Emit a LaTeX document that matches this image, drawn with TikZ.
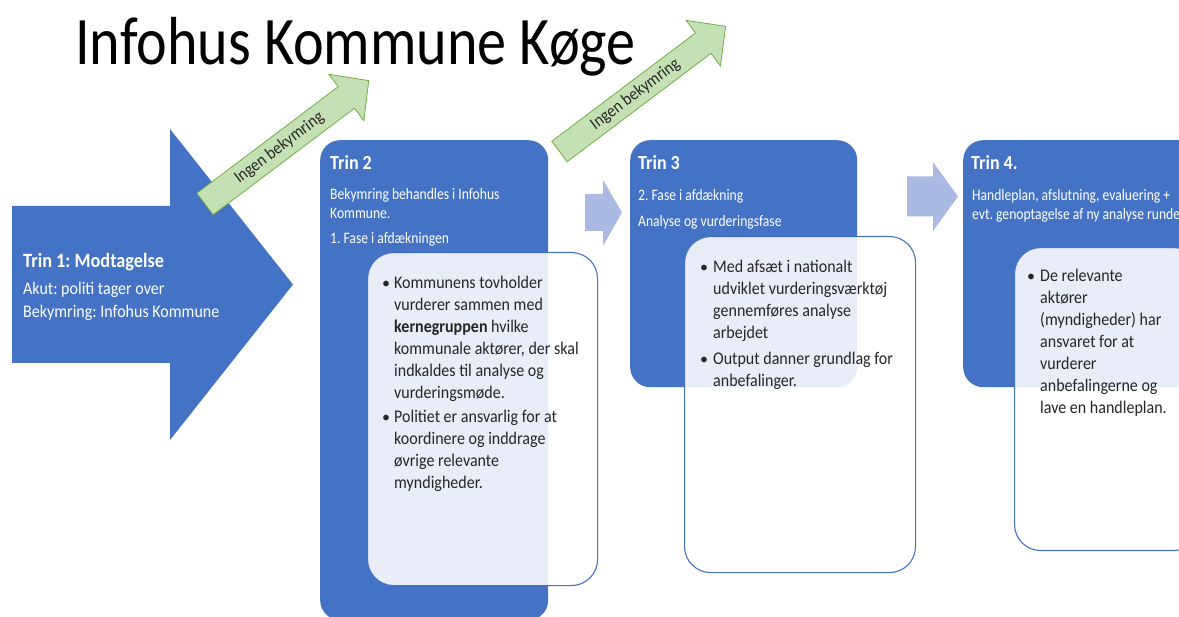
\documentclass[tikz,border=0pt]{standalone}
\usepackage{fontspec}
\setmainfont{Carlito}
\newfontfamily\narrowfont[FakeStretch=0.9]{Carlito}
\newfontfamily\subfont[FakeStretch=0.85]{Carlito}
\newfontfamily\titlefont[FakeStretch=0.855]{Carlito}
\definecolor{mainblue}{HTML}{4472C4}
\definecolor{lightarrow}{RGB}{170,186,226}
\definecolor{greenfill}{HTML}{C5E0B4}
\definecolor{greenline}{HTML}{70AD47}
\definecolor{textdark}{HTML}{262626}
\begin{document}
\frenchspacing
\begin{tikzpicture}[x=1pt,y=-1pt,
  bluebox/.style={fill=mainblue, rounded corners=20pt, inner sep=0pt, anchor=north west},
  whitebox/.style={draw=mainblue, line width=1.1pt, fill=white, fill opacity=0.88, rounded corners=26pt, inner sep=0pt, anchor=north west},
  greenarrow/.style={fill=greenfill, draw=greenline, line width=0.8pt},
  lightarr/.style={fill=lightarrow},
  hdr/.style={anchor=base west, inner sep=0pt, text=white, font=\narrowfont\fontsize{20}{24}\selectfont\bfseries},
  subtxt/.style={anchor=base west, inner sep=0pt, text=white, font=\subfont\fontsize{16}{19}\selectfont, align=left},
  bultxt/.style={anchor=base west, inner sep=0pt, text=textdark, font=\narrowfont\fontsize{17.8}{22}\selectfont, align=left},
  buldot/.style={anchor=base, inner sep=0pt, text=textdark, font=\fontsize{16}{22}\selectfont},
  greentxt/.style={inner sep=0pt, text=textdark, font=\narrowfont\fontsize{17.5}{18}\selectfont, rotate=37}
]
\useasboundingbox (0,0) rectangle (1179,617);
\clip (0,0) rectangle (1179,617);

% title
\node[anchor=base west, inner sep=0pt, font=\titlefont\fontsize{68}{80}\selectfont] (title) at (75,65) {Infohus Kommune Køge};

% big arrow (Trin 1)
\fill[mainblue] (12,206) -- (170,206) -- (170,129) -- (293,284.5) -- (170,440) -- (170,363) -- (12,363) -- cycle;
\node[anchor=base west, inner sep=0pt, text=white, font=\narrowfont\fontsize{20.3}{24}\selectfont\bfseries] (t1head) at (23,268) {Trin 1: Modtagelse};
\node[anchor=base west, inner sep=0pt, text=white, font=\narrowfont\fontsize{17.8}{23}\selectfont, align=left] (t1body) at (23,318) {Akut: politi tager over\\Bekymring: Infohus Kommune};

% green arrows
\begin{scope}[shift={(205,204)}, rotate=37]
  \draw[greenarrow] (0,-13.5) -- (177,-13.5) -- (177,-29) -- (205,0) -- (177,29) -- (177,13.5) -- (0,13.5) -- cycle;
  \node[greentxt] (g1) at (93,0) {Ingen bekymring};
\end{scope}
\begin{scope}[shift={(559.5,151.5)}, rotate=37]
  \draw[greenarrow] (0,-12.8) -- (180,-12.8) -- (180,-28.5) -- (208,0) -- (180,28.5) -- (180,12.8) -- (0,12.8) -- cycle;
  \node[greentxt] (g2) at (95,0) {Ingen bekymring};
\end{scope}

% blue boxes
\node[bluebox, minimum width=228pt, minimum height=480pt] (b2) at (320,140) {};
\node[bluebox, minimum width=227pt, minimum height=247pt] (b3) at (630,140) {};
\node[bluebox, minimum width=240pt, minimum height=247pt] (b4) at (963,140) {};

% light arrows
\fill[lightarr] (585,194) -- (603,194) -- (603,180) -- (622,212.5) -- (603,246) -- (603,231) -- (585,231) -- cycle;
\fill[lightarr] (907,176.5) -- (933,176.5) -- (933,162) -- (958,196.5) -- (933,231) -- (933,216.5) -- (907,216.5) -- cycle;

% headers
\node[hdr] (h2) at (330,170) {Trin 2};
\node[subtxt] (s2a) at (330,219) {Bekymring behandles i Infohus\\Kommune.};
\node[subtxt] (s2b) at (330,244) {1. Fase i afdækningen};
\node[hdr] (h3) at (638,170) {Trin 3};
\node[subtxt] (s3a) at (638,201) {2. Fase i afdækning};
\node[subtxt] (s3b) at (638,227) {Analyse og vurderingsfase};
\node[hdr] (h4) at (971,170) {Trin 4.};
\node[subtxt] (s4a) at (972,220) {Handleplan, afslutning, evaluering +\\evt. genoptagelse af ny analyse runde};

% white boxes
\node[whitebox, minimum width=230pt, minimum height=333pt] (w2) at (367,252) {};
\node[whitebox, minimum width=231pt, minimum height=336pt] (w3) at (684,236) {};
\node[whitebox, minimum width=185pt, minimum height=303pt] (w4) at (1014,247) {};

% bullets Trin 2
\node[buldot] (d2a) at (386,289) {\textbullet};
\node[bultxt] (l2a) at (394,399) {Kommunens tovholder\\vurderer sammen med\\\textbf{kernegruppen} hvilke\\kommunale aktører, der skal\\indkaldes til analyse og\\vurderingsmøde.};
\node[buldot] (d2b) at (386,423) {\textbullet};
\node[bultxt] (l2b) at (394,489) {Politiet er ansvarlig for at\\koordinere og inddrage\\øvrige relevante\\myndigheder.};

% bullets Trin 3
\node[buldot] (d3a) at (704,273) {\textbullet};
\node[bultxt] (l3a) at (713,339) {Med afsæt i nationalt\\udviklet vurderingsværktøj\\gennemføres analyse\\arbejdet};
\node[buldot] (d3b) at (704,365) {\textbullet};
\node[bultxt] (l3b) at (713,387) {Output danner grundlag for\\anbefalinger.};

% bullets Trin 4
\node[buldot] (d4a) at (1031,282) {\textbullet};
\node[bultxt] (l4a) at (1040,414) {De relevante\\aktører\\(myndigheder) har\\ansvaret for at\\vurderer\\anbefalingerne og\\lave en handleplan.};
\end{tikzpicture}
\end{document}
